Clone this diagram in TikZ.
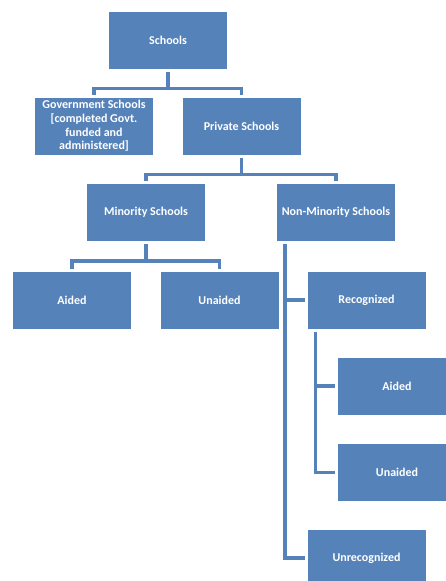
\documentclass[tikz,border=0pt]{standalone}
\usepackage{fontspec}
\setmainfont{Carlito}
\usetikzlibrary{positioning}

\definecolor{boxblue}{RGB}{86,130,186}

\begin{document}
\begin{tikzpicture}[x=1pt,y=-1pt,
	box/.style={fill=boxblue,minimum width=118pt,minimum height=57pt,text=white,font=\bfseries\fontsize{12}{13.6}\selectfont,align=center,inner sep=1pt,outer sep=3pt},
	link/.style={draw=boxblue,line width=3.2pt}]
	\useasboundingbox (0,0) rectangle (445,581);

	\node[box] (Schools) at (168,40) {Schools};
	\node[box] (Govt) at (94,126) {Government Schools\\{[}completed Govt.\\funded and\\administered]};
	\node[box] (Private) at (241.5,126) {Private Schools};
	\node[box] (Minority) at (146,212.5) {Minority Schools};
	\node[box] (NonMinority) at (336,212.5) {Non-Minority Schools};
	\foreach \name/\txt/\x in {MAided/Aided/72,MUnaided/Unaided/219.5,Recognized/Recognized/366.5}
		\node[box] (\name) at (\x,300) {\txt};
	\node[box] (RAided) at (397,386) {Aided};
	\node[box] (RUnaided) at (397,472.5) {Unaided};
	\node[box] (Unrecognized) at (366.5,558) {Unrecognized};

	% tree links
	\foreach \a/\b in {Schools/Govt,Schools/Private,Private/Minority,Private/NonMinority,Minority/MAided,Minority/MUnaided}
		\draw[link] (\a.south) -- ++(0,17) -| (\b.north);

	\coordinate (NMline) at ([xshift=11pt]NonMinority.south west);
	\draw[link] (NMline) |- (Unrecognized.west);
	\draw[link] (NMline |- Recognized.west) -- (Recognized.west);

	\coordinate (Rline) at ([xshift=11pt]Recognized.south west);
	\draw[link] (Rline) |- (RUnaided.west);
	\draw[link] (Rline |- RAided.west) -- (RAided.west);
\end{tikzpicture}
\end{document}
